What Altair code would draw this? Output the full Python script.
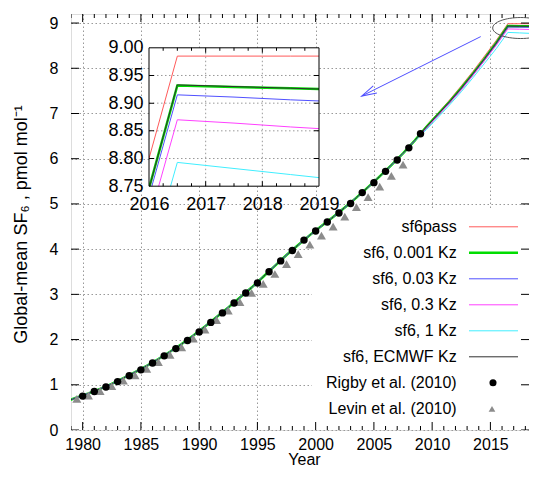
import altair as alt
import pandas as pd

FONT = "Liberation Sans"

# ---------------- data ----------------
model_years = [1978.5 + i for i in range(42)]  # 1978.5 ... 2019.5

# common part of all model runs (1978.5 ... 2008.5)
model_head = [0.62, 0.72, 0.81, 0.91, 1.02, 1.15, 1.28, 1.42, 1.57, 1.73,
              1.90, 2.09, 2.29, 2.50, 2.71, 2.93, 3.15, 3.39, 3.63, 3.87,
              4.09, 4.31, 4.51, 4.71, 4.92, 5.14, 5.37, 5.61, 5.86, 6.12,
              6.40]
# 2009.5 ... 2019.5
tail_sf6pass = [6.73, 7.01, 7.30, 7.61, 7.93, 8.27, 8.615, 8.985, 8.985, 8.985, 8.985]
tail_001 = [6.70, 6.98, 7.26, 7.56, 7.88, 8.21, 8.560, 8.932, 8.929, 8.927, 8.924]
tail_003 = [6.69, 6.97, 7.25, 7.55, 7.87, 8.20, 8.548, 8.915, 8.911, 8.906, 8.902]
tail_03 = [6.67, 6.95, 7.23, 7.52, 7.84, 8.17, 8.506, 8.870, 8.864, 8.857, 8.851]
tail_1 = [6.64, 6.91, 7.19, 7.48, 7.79, 8.11, 8.433, 8.793, 8.782, 8.771, 8.760]
tail_ecmwf = [6.70, 6.98, 7.26, 7.56, 7.88, 8.21, 8.558, 8.933, 8.930, 8.927, 8.924]

series_names = ["sf6pass", "sf6, 0.001 Kz", "sf6, 0.03 Kz", "sf6, 0.3 Kz",
                "sf6, 1 Kz", "sf6, ECMWF Kz"]
series_tails = [tail_sf6pass, tail_001, tail_003, tail_03, tail_1, tail_ecmwf]
series_colors = ["#ff5a5a", "#00dd00", "#5050ff", "#ff40ff", "#40eeff", "#303030"]
series_widths = [1, 2.5, 1, 1, 1, 1]

rigby_years = list(range(1980, 2010))
rigby_vals = [0.75, 0.85, 0.95, 1.07, 1.20, 1.33, 1.48, 1.64, 1.80, 1.98,
              2.17, 2.38, 2.59, 2.81, 3.03, 3.25, 3.50, 3.74, 3.97, 4.20,
              4.40, 4.60, 4.80, 5.01, 5.25, 5.47, 5.72, 5.97, 6.24, 6.55]

levin_years = [1979.5 + i for i in range(29)]
levin_vals = [0.69, 0.76, 0.86, 0.97, 1.09, 1.21, 1.35, 1.50, 1.66, 1.83,
              2.02, 2.22, 2.43, 2.64, 2.83, 3.03, 3.23, 3.45, 3.67, 3.89,
              4.10, 4.30, 4.50, 4.72, 4.93, 5.15, 5.38, 5.62, 5.87]

x_major = list(range(1980, 2016, 5))
x_minor = [y for y in range(1979, 2019) if y not in x_major]
y_major = list(range(0, 10))

inset_x_ticks = [2016, 2017, 2018, 2019]
inset_x_minor = [2016.25, 2016.5, 2016.75, 2017.25, 2017.5, 2017.75,
                 2018.25, 2018.5, 2018.75]
inset_y_ticks = [8.75, 8.80, 8.85, 8.90, 8.95, 9.00]

legend_labels = series_names + ["Rigby et al. (2010)", "Levin et al. (2010)"]

# annotation (ellipse around peak, arrow to inset)
ellipse_pt = {"year": 2017.6, "value": 8.89}
arrow_from = {"year": 2014.17, "value": 8.70}
arrow_to = {"year": 2003.95, "value": 7.385}

# ---------------- layout ----------------
PX_PER_YEAR = 11.65
W, H = 458, 416
X_END = 1979 + W / PX_PER_YEAR  # right edge of the visible frame
IN_X = [78, 248]
IN_Y = [172.2, 33.8]
CLIP_INSET = {"expr": "pathShape('M78,33.8H248V172.2H78Z')"}

x_scale = alt.Scale(domain=[1979, X_END], nice=False, zero=False)
y_scale = alt.Scale(domain=[0, 9.2], nice=False, zero=False)
x_axis = alt.Axis(values=x_major, format="d", title="Year", ticks=False, tickSize=0,
                  domain=False, grid=True, gridDash=[1.5, 2.5], gridColor="#999999",
                  labelPadding=6, labelFontSize=16, titleFontSize=16,
                  titleFontWeight="normal", titleX=233, titleY=29,
                  titleBaseline="middle", labelFont=FONT, titleFont=FONT,
                  labelColor="black", titleColor="black", labelFlush=False)
y_axis = alt.Axis(values=y_major, format="d", title="Global-mean SF\u2086 , pmol mol\u207b\u00b9",
                  ticks=False, tickSize=0, domain=False, grid=True,
                  gridDash=[1.5, 2.5], gridColor="#999999", labelPadding=13,
                  labelFontSize=16, titleFontSize=18, titleFontWeight="normal",
                  titleX=-50, titleY=210, titleAngle=270, titleAlign="center",
                  titleBaseline="middle", labelFont=FONT, titleFont=FONT,
                  labelColor="black", titleColor="black", labelFlush=False)
X = alt.X("year:Q", scale=x_scale, axis=x_axis)
Y = alt.Y("value:Q", scale=y_scale, axis=y_axis)

xi_scale = alt.Scale(domain=[2016, 2019], range=IN_X, nice=False, zero=False)
yi_scale = alt.Scale(domain=[8.75, 9.0], range=IN_Y, nice=False, zero=False)
xi_axis = alt.Axis(orient="bottom", offset=-(H - IN_Y[0]), values=inset_x_ticks,
                   format="d", title=None, ticks=False, tickSize=0, domain=False,
                   grid=False, labelPadding=9, labelFontSize=18, labelFont=FONT,
                   labelColor="black", labelFlush=False)
yi_axis = alt.Axis(orient="left", offset=-IN_X[0], values=inset_y_ticks,
                   format=".2f", title=None, ticks=False, tickSize=0, domain=False,
                   grid=False, labelPadding=6, labelFontSize=18, labelFont=FONT,
                   labelColor="black", labelFlush=False)
XI = alt.X("year:Q", scale=xi_scale, axis=xi_axis)
YI = alt.Y("value:Q", scale=yi_scale, axis=yi_axis)

one = pd.DataFrame({"k": [0]})

# ---------------- main layers ----------------
main_layers = []
# opaque key box (hides grid)
main_layers.append(alt.Chart(one).mark_rect(fill="white").encode(
    x=alt.value(241), x2=alt.value(W + 4), y=alt.value(196), y2=alt.value(H)))

series_dfs = []
for name, tail in zip(series_names, series_tails):
    vals = model_head + tail
    series_dfs.append(pd.DataFrame({"year": model_years, "value": vals}))

for df, col, wd in zip(series_dfs, series_colors, series_widths):
    main_layers.append(alt.Chart(df).mark_line(color=col, strokeWidth=wd, clip=True)
                       .encode(x=X, y=Y))

levin_df = pd.DataFrame({"year": levin_years, "value": levin_vals})
rigby_df = pd.DataFrame({"year": rigby_years, "value": rigby_vals})
main_layers.append(alt.Chart(levin_df).mark_point(
    shape="triangle-up", filled=True, size=80, color="#8c8c8c", opacity=1, clip=True)
    .encode(x=X, y=Y))
main_layers.append(alt.Chart(rigby_df).mark_point(
    shape="circle", filled=True, size=55, color="black", opacity=1, clip=True)
    .encode(x=X, y=Y))

# inward ticks
def xticks(years, yv, size):
    d = pd.DataFrame({"year": years, "value": [yv] * len(years)})
    return alt.Chart(d).mark_tick(orient="vertical", size=size, thickness=1,
                                  color="black", opacity=1, clip=True).encode(x=X, y=Y)

def yticks(vals, xv, size):
    d = pd.DataFrame({"year": [xv] * len(vals), "value": vals})
    return alt.Chart(d).mark_tick(orient="horizontal", size=size, thickness=1,
                                  color="black", opacity=1, clip=True).encode(x=X, y=Y)

main_layers += [xticks(x_major, 0, 16), xticks(x_major, 9.2, 16),
                xticks(x_minor, 0, 8), xticks(x_minor, 9.2, 8),
                yticks(y_major, 1979, 16), yticks(y_major, X_END, 16)]

# ellipse and arrow
ell_df = pd.DataFrame([ellipse_pt])
main_layers.append(alt.Chart(ell_df).mark_point(
    shape="M-1,0A1,0.375 0 1,1 1,0A1,0.375 0 1,1 -1,0", size=3136, filled=False,
    stroke="#555555", strokeWidth=1, opacity=1, clip=True).encode(x=X, y=Y))
arr_df = pd.DataFrame({"year": [arrow_from["year"]], "value": [arrow_from["value"]],
                       "year2": [arrow_to["year"]], "value2": [arrow_to["value"]]})
main_layers.append(alt.Chart(arr_df).mark_rule(color="#5050ff", strokeWidth=1).encode(
    x=X, y=Y, x2="year2:Q", y2="value2:Q"))
head_df = pd.DataFrame([arrow_to])
main_layers.append(alt.Chart(head_df).mark_point(
    shape="M-1,-0.27L0,0L-1,0.27", size=900, angle=153.5, filled=False,
    stroke="#5050ff", strokeWidth=1, opacity=1).encode(x=X, y=Y))

# legend (gnuplot style: text, then sample)
for i, lab in enumerate(legend_labels):
    yy = 212.8 + 26 * i
    main_layers.append(alt.Chart(one).mark_text(
        align="right", baseline="middle", fontSize=16, font=FONT, color="black").encode(
        x=alt.value(385.7), y=alt.value(yy), text=alt.value(lab)))
    if i < 6:
        main_layers.append(alt.Chart(one).mark_rule(
            color=series_colors[i], strokeWidth=series_widths[i]).encode(
            x=alt.value(398), x2=alt.value(447), y=alt.value(yy)))
    elif i == 6:
        main_layers.append(alt.Chart(one).mark_point(
            shape="circle", filled=True, size=50, color="black", opacity=1).encode(
            x=alt.value(422), y=alt.value(yy)))
    else:
        main_layers.append(alt.Chart(one).mark_point(
            shape="triangle-up", filled=True, size=45, color="#8c8c8c", opacity=1).encode(
            x=alt.value(421), y=alt.value(yy)))

main = alt.layer(*main_layers)

# ---------------- inset ----------------
in_layers = []
box_df = pd.DataFrame({"year": [2016], "value": [8.75], "x1": [2019], "y1": [9.0]})
in_layers.append(alt.Chart(box_df).mark_rect(fill="white").encode(
    x=XI, y=YI, x2="x1:Q", y2="y1:Q"))
vg = pd.DataFrame({"year": [2017, 2018], "value": [8.75, 8.75], "y1": [9.0, 9.0]})
in_layers.append(alt.Chart(vg).mark_rule(color="#999999", strokeDash=[1.5, 2.5]).encode(
    x=XI, y=YI, y2="y1:Q"))
hg = pd.DataFrame({"year": [2016] * 4, "x1": [2019] * 4, "value": [8.80, 8.85, 8.90, 8.95]})
in_layers.append(alt.Chart(hg).mark_rule(color="#999999", strokeDash=[1.5, 2.5]).encode(
    x=XI, x2="x1:Q", y=YI))
for df, col, wd in zip(series_dfs, series_colors, series_widths):
    sub = df[df["year"] >= 2015.5]
    in_layers.append(alt.Chart(sub).mark_line(color=col, strokeWidth=wd, clip=CLIP_INSET)
                     .encode(x=XI, y=YI))

def ixt(years, yv, size):
    d = pd.DataFrame({"year": years, "value": [yv] * len(years)})
    return alt.Chart(d).mark_tick(orient="vertical", size=size, thickness=1, color="black",
                                  opacity=1, clip=CLIP_INSET).encode(x=XI, y=YI)

def iyt(vals, xv, size):
    d = pd.DataFrame({"year": [xv] * len(vals), "value": vals})
    return alt.Chart(d).mark_tick(orient="horizontal", size=size, thickness=1, color="black",
                                  opacity=1, clip=CLIP_INSET).encode(x=XI, y=YI)

in_layers += [ixt([2017, 2018], 8.75, 10), ixt([2017, 2018], 9.0, 10),
              ixt(inset_x_minor, 8.75, 6), ixt(inset_x_minor, 9.0, 6),
              iyt(inset_y_ticks[1:-1], 2016, 10), iyt(inset_y_ticks[1:-1], 2019, 10)]
in_layers.append(alt.Chart(box_df).mark_rect(fillOpacity=0, stroke="black", strokeWidth=1)
                 .encode(x=XI, y=YI, x2="x1:Q", y2="y1:Q"))
inset = alt.layer(*in_layers)

chart = alt.layer(main, inset).resolve_scale(x="independent", y="independent").properties(
    width=W, height=H,
    autosize=alt.AutoSizeParams(type="none"),
    padding={"left": 63, "top": 6, "right": 0, "bottom": 38},
).configure_view(stroke="black", strokeWidth=1).configure(font=FONT, background="white")

chart.save("out.html", embed_options={"renderer": "svg", "actions": False})
